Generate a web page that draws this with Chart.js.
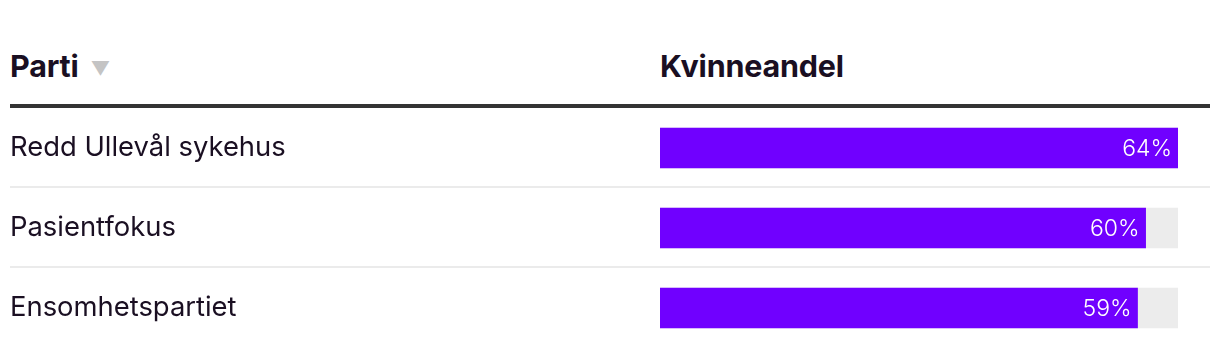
<!DOCTYPE html>
<html>
<head>
<meta charset="utf-8">
<script src="https://cdn.jsdelivr.net/npm/chart.js@4/dist/chart.umd.min.js"></script>
<style>
  html, body { margin: 0; padding: 0; background: #fff; }
  body { width: 1220px; height: 356px; position: relative; overflow: hidden; font-family: Inter, "Noto Sans", sans-serif; }
  .hdr { position: absolute; top: 46px; font-weight: 700; font-size: 30.5px; line-height: 40px; color: #1a0f22; letter-spacing: -0.2px; }
  .arrow { color: #c4c4c4; font-size: 19px; margin-left: 12px; vertical-align: 2px; }
  .rule { position: absolute; left: 10px; top: 104px; width: 1200px; height: 4px; background: #333333; }
  #c { position: absolute; left: 0; top: 0; }
</style>
</head>
<body>
<div class="hdr" style="left:10px">Parti<span class="arrow">▼</span></div>
<div class="hdr" style="left:660px">Kvinneandel</div>
<div class="rule"></div>
<canvas id="c" width="1220" height="356"></canvas>
<script>
const parties = ["Redd Ullevål sykehus", "Pasientfokus", "Ensomhetspartiet"];
const shares = [64, 60, 59];

const scaleMax = Math.max(...shares);
const track = parties.map(() => scaleMax);

const separators = {
  id: 'separators',
  beforeDatasetsDraw(chart) {
    const ctx = chart.ctx;
    const y = chart.scales.y;
    ctx.save();
    ctx.fillStyle = '#ebebeb';
    for (let i = 0; i < parties.length - 1; i++) {
      const b = (y.getPixelForValue(i) + y.getPixelForValue(i + 1)) / 2;
      ctx.fillRect(10, Math.round(b) - 2, 1200, 2);
    }
    ctx.restore();
  }
};

const valueLabels = {
  id: 'valueLabels',
  afterDatasetsDraw(chart) {
    const ctx = chart.ctx;
    const meta = chart.getDatasetMeta(1);
    ctx.save();
    ctx.fillStyle = '#ffffff';
    ctx.font = '300 23px Inter, "Noto Sans", sans-serif';
    ctx.textAlign = 'right';
    ctx.textBaseline = 'middle';
    meta.data.forEach((bar, i) => {
      ctx.fillText(shares[i] + '%', bar.x - 6, bar.y + 1);
    });
    ctx.restore();
  }
};

new Chart(document.getElementById('c'), {
  type: 'bar',
  data: {
    labels: parties,
    datasets: [
      { data: track, backgroundColor: '#ececec', grouped: false, order: 2, barThickness: 40 },
      { data: shares, backgroundColor: '#7000ff', grouped: false, order: 1, barThickness: 40 }
    ]
  },
  options: {
    indexAxis: 'y',
    responsive: false,
    maintainAspectRatio: false,
    animation: false,
    devicePixelRatio: 1,
    layout: { padding: { top: 108, right: 42, bottom: 8, left: 10 } },
    plugins: { legend: { display: false }, tooltip: { enabled: false } },
    scales: {
      x: { display: false, min: 0, max: scaleMax },
      y: {
        border: { display: false },
        grid: { display: false, drawTicks: false },
        ticks: {
          crossAlign: 'far',
          padding: 0,
          color: '#1a0f22',
          font: { family: 'Inter, "Noto Sans", sans-serif', size: 27.4, weight: '400', lineHeight: 0.5 }
        },
        afterFit(scale) { scale.width = 650; }
      }
    }
  },
  plugins: [separators, valueLabels]
});
</script>
</body>
</html>
